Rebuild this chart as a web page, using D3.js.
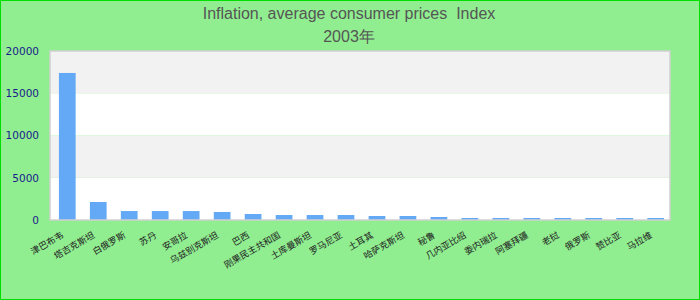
<!DOCTYPE html>
<html><head><meta charset="utf-8">
<script src="https://cdn.jsdelivr.net/npm/d3@7"></script>
<style>html,body{margin:0;padding:0;background:#90ee90;}svg{display:block;}</style>
</head><body>
<script>
const categories = ["津巴布韦","塔吉克斯坦","白俄罗斯","苏丹","安哥拉","乌兹别克斯坦","巴西","刚果民主共和国","土库曼斯坦","罗马尼亚","土耳其","哈萨克斯坦","秘鲁","几内亚比绍","委内瑞拉","阿塞拜疆","老挝","俄罗斯","赞比亚","马拉维"];
const values = [17400,2130,1060,1060,1060,950,710,590,590,590,475,475,355,240,240,240,240,240,240,240];
const yTicks = [0,5000,10000,15000,20000];
const titleLines = ["Inflation, average consumer prices  Index","2003年"];

const W=700,H=300;
const svg=d3.select("body").append("svg").attr("width",W).attr("height",H);
svg.append("rect").attr("x",0.5).attr("y",0.5).attr("width",W-1).attr("height",H-1)
  .attr("fill","#90ee90").attr("stroke","#00e000");

const m={l:50,r:30,t:51,b:80};
const x=d3.scaleBand().domain(categories).range([m.l,W-m.r]).paddingInner(0.46).paddingOuter(0.24).align(0.6);
const y=d3.scaleLinear().domain([0,20000]).range([H-m.b,m.t]);

const bands=d3.pairs(yTicks);
svg.append("g").selectAll("rect").data(bands).join("rect")
  .attr("x",m.l).attr("width",W-m.r-m.l)
  .attr("y",d=>y(d[1])).attr("height",d=>y(d[0])-y(d[1]))
  .attr("fill",(d,i)=>i%2?"#f2f2f2":"#ffffff");

svg.append("g").selectAll("rect").data(values).join("rect")
  .attr("x",(d,i)=>x(categories[i])).attr("width",x.bandwidth())
  .attr("y",d=>y(d)).attr("height",d=>y(0)-y(d))
  .attr("fill","#63a9f5");

svg.append("rect").attr("x",m.l).attr("y",m.t).attr("width",W-m.r-m.l).attr("height",y(0)-m.t)
  .attr("fill","none").attr("stroke","#d0d0d0").attr("stroke-width",1.5);

const ya=svg.append("g").attr("transform",`translate(${m.l},0)`)
  .call(d3.axisLeft(y).tickValues(yTicks).tickFormat(d3.format("d")).tickSize(0).tickPadding(11));
ya.select(".domain").remove();
ya.selectAll("text").attr("fill","#1a1a8c").style("font-family","DejaVu Sans").style("font-size","10.5px");

const xa=svg.append("g").attr("transform",`translate(0,${y(0)})`)
  .call(d3.axisBottom(x).tickSize(0).tickPadding(0));
xa.select(".domain").remove();
xa.selectAll("text").attr("fill","#222").style("font-family","Noto Sans CJK SC").style("font-size","9px")
  .attr("text-anchor","end").attr("dy","0")
  .attr("transform",`translate(-3,17) rotate(-30)`);

svg.append("g").selectAll("text").data(titleLines).join("text")
  .attr("x",349).attr("y",(d,i)=>19+i*23).attr("text-anchor","middle")
  .attr("xml:space","preserve").style("white-space","pre")
  .attr("fill","#555").style("font-family","Liberation Sans").style("font-size","16px")
  .text(d=>d);
</script>
</body></html>
